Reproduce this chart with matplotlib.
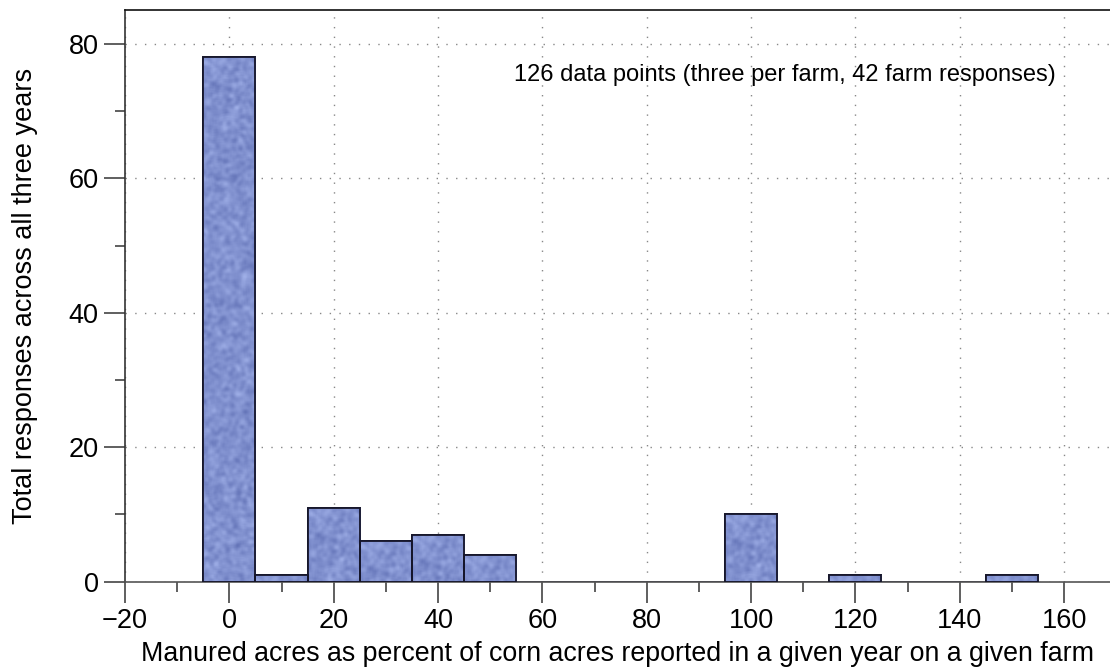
import matplotlib.pyplot as plt
import numpy as np
from matplotlib.ticker import MultipleLocator

# histogram bins (bin centre, percent) and counts
bin_centers = [0, 10, 20, 30, 40, 50, 60, 70, 80, 90, 100, 110, 120, 130, 140, 150]
counts = [78, 1, 11, 6, 7, 4, 0, 0, 0, 0, 10, 0, 1, 0, 0, 1]
bin_width = 10

xlabel = "Manured acres as percent of corn acres reported in a given year on a given farm"
ylabel = "Total responses across all three years"
note = "126 data points (three per farm, 42 farm responses)"

plt.rcParams['font.family'] = ['Liberation Sans', 'DejaVu Sans']

fig = plt.figure(figsize=(11.1, 6.69), dpi=100)
ax = fig.add_axes([125 / 1110, 1 - 581.7 / 669, 1 - 125 / 1110, (581.7 - 10.3) / 669])

ax.grid(True, which='major', linestyle=(0, (1, 6)), color='#888888', linewidth=1.0)
ax.set_axisbelow(True)

# smooth noise texture for the bars (purely decorative), ~1 texel per pixel
rng = np.random.default_rng(3)
noise = rng.standard_normal((600, 80))
k = np.ones(4) / 4
for _ in range(2):
    noise = np.apply_along_axis(lambda r: np.convolve(r, k, mode='same'), 0, noise)
    noise = np.apply_along_axis(lambda r: np.convolve(r, k, mode='same'), 1, noise)
noise = (noise - noise.min()) / (noise.max() - noise.min())
c_dark = np.array([98, 114, 182]) / 255
c_light = np.array([160, 176, 232]) / 255
tex = c_dark + noise[..., None] * (c_light - c_dark)

px_per_unit_y = 571.4 / 85
bars = ax.bar(bin_centers, counts, width=bin_width, color='#7f90d0',
              edgecolor='#15152a', linewidth=1.3, zorder=2)
for i, (b, h) in enumerate(zip(bars, counts)):
    if h <= 0:
        continue
    x0 = b.get_x()
    rows = max(int(h * px_per_unit_y), 4)
    im = ax.imshow(tex[:rows, 10:62], extent=(x0, x0 + bin_width, 0, h), aspect='auto',
                   interpolation='bilinear', zorder=2.5)
    im.set_clip_path(b)
    ax.bar([x0 + bin_width / 2], [h], width=bin_width, fill=False,
           edgecolor='#15152a', linewidth=1.3, zorder=3)

ax.set_xlim(-20, 168.8)
ax.set_ylim(0, 85)
ax.xaxis.set_major_locator(MultipleLocator(20))
ax.xaxis.set_minor_locator(MultipleLocator(10))
ax.yaxis.set_major_locator(MultipleLocator(20))
ax.yaxis.set_minor_locator(MultipleLocator(10))

ax.spines['right'].set_visible(False)
for s in ['left', 'bottom', 'top']:
    ax.spines[s].set_linewidth(1.2)
ax.spines['left'].set_color('#333333')
ax.spines['bottom'].set_color('#555555')
ax.spines['top'].set_color('#111111')

ax.tick_params(which='major', direction='out', length=15, width=1.2, color='#444444',
               labelsize=19.5, pad=4)
ax.tick_params(which='minor', direction='out', length=7, width=1.2, color='#444444')

ax.set_xlabel(xlabel, fontsize=19.3, labelpad=5)
ax.set_ylabel(ylabel, fontsize=19.5, labelpad=22)

ax.text(0.670, 0.887, note, transform=ax.transAxes, fontsize=17,
        ha='center', va='center')

fig.savefig("out.png", dpi=100)
plt.close()
